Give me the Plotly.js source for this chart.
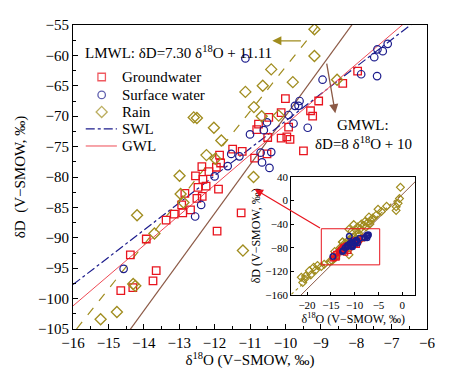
<!DOCTYPE html>
<html><head><meta charset="utf-8">
<script src="https://cdn.plot.ly/plotly-3.0.1.min.js"></script>
<style>html,body{margin:0;padding:0;background:#fff}</style>
</head><body>
<div id="chart" style="width:450px;height:369px"></div>
<script>
// ---------- data ----------
const gwX = [-7.96,-8.38,-10.0,-9.06,-10.12,-9.29,-9.23,-10.47,-10.76,-10.81,-9.91,-10.50,-10.12,-9.96,-9.87,-9.49,-10.52,-11.22,-11.49,-10.87,-11.86,-11.83,-11.95,-12.16,-12.36,-12.33,-12.54,-12.47,-12.24,-11.89,-12.35,-12.50,-12.84,-12.93,-12.90,-12.68,-13.14,-13.37,-11.93,-11.25,-13.93,-14.38,-13.65,-13.74,-14.65,-14.31];
const gwY = [-62.6,-64.6,-67.1,-67.5,-69.4,-69.1,-70.0,-70.2,-71.3,-72.2,-71.8,-73.5,-73.6,-73.4,-73.8,-75.7,-76.2,-75.8,-75.4,-76.9,-76.4,-77.7,-78.4,-79.1,-78.3,-80.4,-79.8,-81.7,-81.5,-82.0,-83.2,-83.5,-82.7,-84.6,-85.9,-85.4,-86.1,-87.1,-88.9,-85.9,-90.2,-92.8,-95.4,-97.1,-98.7,-98.2];

const swX = [-11.13,-7.11,-7.25,-7.40,-7.49,-7.86,-7.41,-8.95,-9.60,-9.73,-9.63,-9.91,-10.52,-10.61,-9.77,-9.37,-11.0,-10.70,-10.40,-10.66,-10.45,-11.53,-11.30,-11.63,-12.0,-12.38,-12.55,-14.57];
const swY = [-60.5,-58.1,-59.3,-59.0,-60.3,-63.1,-63.4,-64.0,-67.5,-68.3,-68.3,-69.8,-71.0,-72.3,-71.2,-71.9,-73.0,-76.0,-75.9,-77.6,-78.5,-76.2,-76.6,-78.2,-79.9,-84.6,-86.5,-95.1];

const rainX = [-9.18,-9.18,-10.40,-9.79,-11.13,-10.64,-10.89,-10.67,-10.19,-8.54,-12.59,-12.50,-12.02,-11.81,-12.23,-11.98,-12.99,-12.96,-12.88,-14.19,-13.70,-14.30,-14.24,-14.76,-15.22,-11.20,-10.90,
  -0.4,-0.6,-0.9,-1.3,-1.3,-3.3,-4.4,-5.1,-5.5,-6.2,-6.6,-7.0,-7.3,-7.9,-8.1,-8.6,-8.8,-9.4,-9.7,-10.2,-10.6,-11.2,-7.6,-6.8,-16.4,-17.0,-17.8,-18.6,-18.2,-19.5,-19.2,-20.5,-20.9,-21.2,-20.3];
const rainY = [-55.7,-60.1,-62.3,-64.4,-66.0,-65.0,-68.5,-70.0,-69.9,-64.0,-70.2,-70.3,-71.9,-74.0,-76.4,-77.0,-79.8,-82.8,-84.2,-86.3,-89.3,-97.6,-97.9,-102.2,-103.4,-92.1,-80.0,
  22,3,-5,-11,-17,-10,-19,-15,-25,-30,-34,-28,-38,-36,-42,-40,-48,-45,-50,-41,-52,-49,-45,-40,-108,-112,-110,-113,-118,-119,-126,-133,-139,-130,-128];

// fitted lines (end points)
const gmwlX = [-14.5, -8.0],  gmwlY = [-106, -54];
const lmwlX = [-15.9, -9.05], lmwlY = [-105, -55];
const swlX  = [-16, -6.4],    swlY  = [-97.7, -54.7];
const gwlX  = [-16, -6.64],   gwlY  = [-101.2, -54.7];
const gmwlInsetX = [-21.25, 2.7], gmwlInsetY = [-160, 31.6];
const lmwlInsetX = [-23.3, 0],    lmwlInsetY = [-159, 11.1];

const legendNames = ['Groundwater','Surface water','Rain','SWL','GWL'];
const xTitle = 'δ<sup>18</sup>O (V\u2212SMOW, ‰)';
const yTitle = 'δD\u00a0 (V\u2212SMOW, ‰)';

// ---------- styles ----------
const F = 'Liberation Serif, Times New Roman, serif';
const RED = '#e8141e', NAVY = '#1c1c8c', OLIVE = '#a08c1e', BROWN = '#8c5a46', LRED = '#ee4a55';

function ln(x, y, color, dash, w, xa, ya) {
  return {x, y, xaxis: xa, yaxis: ya, mode: 'lines', line: {color, dash, width: w}, hoverinfo: 'skip', showlegend: false};
}
function mk(x, y, sym, color, size, lw, xa, ya) {
  return {x, y, xaxis: xa, yaxis: ya, mode: 'markers', marker: {symbol: sym, color, size, line: {color, width: lw}}, showlegend: false};
}

const traces = [
  ln(gmwlX, gmwlY, BROWN, 'solid', 1.2, 'x', 'y'),
  ln(lmwlX, lmwlY, OLIVE, 'dash', 1.2, 'x', 'y'),
  ln(swlX, swlY, NAVY, 'dashdot', 1.2, 'x', 'y'),
  ln(gwlX, gwlY, LRED, 'solid', 1, 'x', 'y'),
  mk(gwX, gwY, 'square-open', RED, 7.5, 1.3, 'x', 'y'),
  mk(swX, swY, 'circle-open', NAVY, 7.5, 1.2, 'x', 'y'),
  mk(rainX, rainY, 'diamond-open', OLIVE, 8.5, 1.3, 'x', 'y'),
  // inset
  ln(lmwlInsetX, lmwlInsetY, OLIVE, 'dot', 1.2, 'x2', 'y2'),
  ln(gmwlInsetX, gmwlInsetY, BROWN, 'solid', 1, 'x2', 'y2'),
  mk(rainX, rainY, 'diamond-open', OLIVE, 6, 1.2, 'x2', 'y2'),
  mk(gwX, gwY, 'square-open', RED, 4.5, 1.2, 'x2', 'y2'),
  mk(swX, swY, 'circle-open', NAVY, 5.5, 1.5, 'x2', 'y2'),
  // legend symbols (helper axes = paper coordinates)
  {x: [0.081, 0.081, 0.081], y: [0.829, 0.770, 0.714], xaxis: 'x3', yaxis: 'y3', mode: 'markers',
   marker: {symbol: ['square-open','circle-open','diamond-open'], size: [7.5, 7.5, 8.5], color: [RED, NAVY, OLIVE], line: {color: [RED, NAVY, OLIVE], width: 1.3}},
   showlegend: false, hoverinfo: 'skip'}
];

const legendRows = [0.829, 0.770, 0.714, 0.658, 0.602];
const annotations = legendNames.map((t, i) => ({
  text: t, xref: 'paper', yref: 'paper', x: 0.132, y: legendRows[i], xanchor: 'left', yanchor: 'middle',
  showarrow: false, font: {family: F, size: 15, color: '#000'}
}));
annotations.push(
  {text: 'LMWL: δD=7.30 δ<sup>18</sup>O + 11.11', xref: 'x', yref: 'y', x: -15.73, y: -59.4, xanchor: 'left', yanchor: 'middle', showarrow: false, font: {family: F, size: 15, color: '#000'}},
  {text: 'GMWL:', xref: 'x', yref: 'y', x: -7.8, y: -71.5, xanchor: 'center', yanchor: 'middle', showarrow: false, font: {family: F, size: 15, color: '#000'}},
  {text: 'δD=8 δ<sup>18</sup>O + 10', xref: 'x', yref: 'y', x: -7.8, y: -74.4, xanchor: 'center', yanchor: 'middle', showarrow: false, font: {family: F, size: 15, color: '#000'}},
  {text: '', xref: 'x', yref: 'y', axref: 'x', ayref: 'y', x: -10.37, y: -57.6, ax: -9.52, ay: -57.6, showarrow: true, arrowhead: 2, arrowsize: 1.4, arrowwidth: 1.3, arrowcolor: OLIVE},
  {text: '', xref: 'x', yref: 'y', axref: 'x', ayref: 'y', x: -8.59, y: -69.5, ax: -8.84, ay: -61.1, showarrow: true, arrowhead: 2, arrowsize: 1.4, arrowwidth: 1.3, arrowcolor: BROWN},
  {text: '', xref: 'x', yref: 'y', axref: 'x', ayref: 'y', x: -10.87, y: -82.0, ax: -8.98, ay: -88.55, showarrow: true, arrowhead: 2, arrowsize: 1.4, arrowwidth: 1.2, arrowcolor: RED}
);

const shapes = [
  {type: 'line', xref: 'paper', yref: 'paper', x0: 0.036, x1: 0.124, y0: legendRows[3], y1: legendRows[3], line: {color: NAVY, width: 1.2, dash: 'dashdot'}},
  {type: 'line', xref: 'paper', yref: 'paper', x0: 0.036, x1: 0.124, y0: legendRows[4], y1: legendRows[4], line: {color: LRED, width: 1}},
  {type: 'rect', xref: 'x2', yref: 'y2', x0: -17, x1: -4.75, y0: -109, y1: -48, line: {color: RED, width: 1}}
];

const axBase = {showgrid: false, zeroline: false, showline: true, linecolor: '#000', linewidth: 1, mirror: true,
  ticks: 'inside', tickcolor: '#000', ticklen: 5};

const layout = {
  width: 450, height: 369,
  margin: {l: 73, r: 22.5, t: 25, b: 40},
  paper_bgcolor: '#fff', plot_bgcolor: '#fff',
  showlegend: false,
  font: {family: F, color: '#000'},
  xaxis: Object.assign({}, axBase, {range: [-16, -6], dtick: 1, tick0: -16, tickfont: {family: F, size: 15},
    minor: {dtick: 0.5, ticks: 'inside', ticklen: 3, tickcolor: '#000'},
    title: {text: xTitle, font: {family: F, size: 15}, standoff: 6}}),
  yaxis: Object.assign({}, axBase, {range: [-105, -55], dtick: 5, tick0: -55, tickfont: {family: F, size: 15},
    minor: {dtick: 2.5, ticks: 'inside', ticklen: 3, tickcolor: '#000'},
    title: {text: yTitle, font: {family: F, size: 15}, standoff: 8}}),
  xaxis2: Object.assign({}, axBase, {domain: [0.6166, 0.9667], anchor: 'y2', range: [-23.3, 2.7], dtick: 5, tick0: 0, ticklen: 3,
    tickfont: {family: F, size: 11}, title: {text: xTitle, font: {family: F, size: 12}, standoff: 2}}),
  yaxis2: Object.assign({}, axBase, {domain: [0.1118, 0.501], anchor: 'x2', range: [-160, 40], dtick: 40, tick0: 0, ticklen: 3,
    tickfont: {family: F, size: 11}, title: {text: 'δD (V\u2212SMOW, ‰)', font: {family: F, size: 12}, standoff: 2}}),
  xaxis3: {overlaying: 'x', range: [0, 1], visible: false, fixedrange: true},
  yaxis3: {overlaying: 'y', range: [0, 1], visible: false, fixedrange: true},
  annotations, shapes
};

Plotly.newPlot('chart', traces, layout, {staticPlot: true, displayModeBar: false});
</script>
</body></html>
